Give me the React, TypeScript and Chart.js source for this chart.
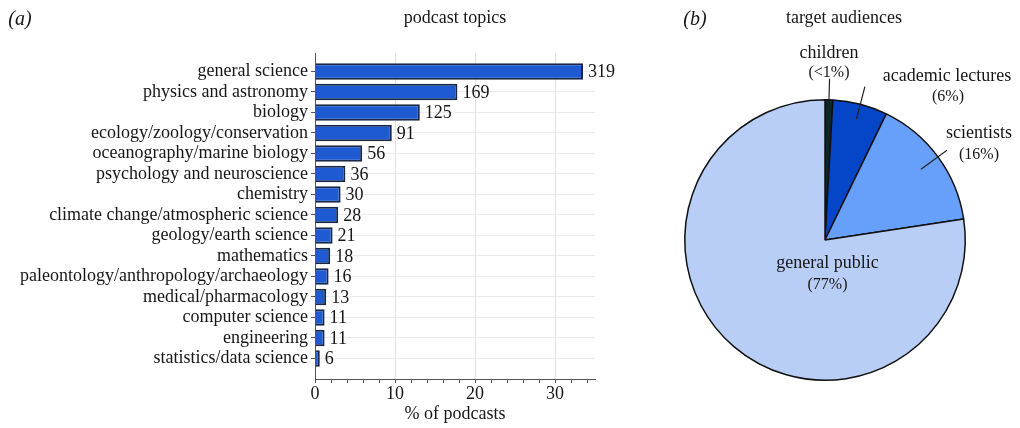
import React, { useEffect, useRef } from 'react';
import { Chart, registerables } from 'chart.js';

Chart.register(...registerables);

// ---------- data ----------
const topics = [
  'general science',
  'physics and astronomy',
  'biology',
  'ecology/zoology/conservation',
  'oceanography/marine biology',
  'psychology and neuroscience',
  'chemistry',
  'climate change/atmospheric science',
  'geology/earth science',
  'mathematics',
  'paleontology/anthropology/archaeology',
  'medical/pharmacology',
  'computer science',
  'engineering',
  'statistics/data science',
];
const topicCounts = [319, 169, 125, 91, 56, 36, 30, 28, 21, 18, 16, 13, 11, 11, 6];
const topicPercent = [33.5, 17.8, 13.1, 9.6, 5.9, 3.8, 3.2, 2.9, 2.2, 1.9, 1.7, 1.4, 1.2, 1.2, 0.6];
const xAxisTitle = '% of podcasts';
const barTitle = 'podcast topics';
const barPanel = '(a)';

const audiences = ['children', 'academic lectures', 'scientists', 'general public'];
const audienceShare = [0.9, 6.3, 15.4, 77.4];
const audienceShareText = ['(<1%)', '(6%)', '(16%)', '(77%)'];
const pieTitle = 'target audiences';
const piePanel = '(b)';

// ---------- style ----------
const FAMILY = '"Liberation Serif", "Times New Roman", serif';
const TEXT = '#161616';
const tickFont = { family: FAMILY, size: 18 };

const barTextPlugin = {
  id: 'barText',
  afterDraw(chart: any) {
    const { ctx, chartArea } = chart;
    ctx.save();
    ctx.fillStyle = TEXT;
    ctx.textBaseline = 'middle';
    ctx.textAlign = 'left';
    ctx.font = `18px ${FAMILY}`;
    const meta = chart.getDatasetMeta(0);
    meta.data.forEach((bar: any, i: number) => {
      ctx.fillText(String(topicCounts[i]), bar.x + 5, bar.y + 1);
    });
    ctx.textAlign = 'center';
    ctx.font = `18px ${FAMILY}`;
    ctx.fillText(barTitle, (chartArea.left + chartArea.right) / 2, 18);
    ctx.font = `italic 20px ${FAMILY}`;
    ctx.fillText(barPanel, 20, 20);
    ctx.restore();
  },
};

const pieLabelStyle = [
  { leader: [1.0, 1.15], name: [4, -187], pct: [4, -167] },
  { leader: [0.89, 1.13], name: [122, -164], pct: [123, -143] },
  { leader: [0.85, 1.08], name: [154, -107], pct: [154, -85] },
  { leader: null, name: [2.5, 23], pct: [2.5, 45] },
];

const pieTextPlugin = {
  id: 'pieText',
  afterDraw(chart: any) {
    const { ctx } = chart;
    const meta = chart.getDatasetMeta(0);
    ctx.save();
    ctx.fillStyle = TEXT;
    ctx.strokeStyle = '#222';
    ctx.lineWidth = 1.2;
    ctx.textAlign = 'center';
    ctx.textBaseline = 'middle';
    meta.data.forEach((arc: any, i: number) => {
      const st = pieLabelStyle[i];
      const { x, y, startAngle, endAngle, outerRadius } = arc.getProps(
        ['x', 'y', 'startAngle', 'endAngle', 'outerRadius'],
        true
      );
      const mid = (startAngle + endAngle) / 2;
      if (st.leader) {
        ctx.beginPath();
        ctx.moveTo(x + Math.cos(mid) * outerRadius * st.leader[0], y + Math.sin(mid) * outerRadius * st.leader[0]);
        ctx.lineTo(x + Math.cos(mid) * outerRadius * st.leader[1], y + Math.sin(mid) * outerRadius * st.leader[1]);
        ctx.stroke();
      }
      ctx.font = `18px ${FAMILY}`;
      ctx.fillText(audiences[i], x + st.name[0], y + st.name[1]);
      ctx.font = `16px ${FAMILY}`;
      ctx.fillText(audienceShareText[i], x + st.pct[0], y + st.pct[1]);
    });
    ctx.font = `18px ${FAMILY}`;
    ctx.fillText(pieTitle, 204, 18);
    ctx.font = `italic 20px ${FAMILY}`;
    ctx.fillText(piePanel, 55, 20);
    ctx.restore();
  },
};

export default function App() {
  const barRef = useRef<HTMLCanvasElement | null>(null);
  const pieRef = useRef<HTMLCanvasElement | null>(null);

  useEffect(() => {
    const barChart = new Chart(barRef.current as HTMLCanvasElement, {
      type: 'bar',
      data: {
        datasets: [
          {
            data: topicPercent.map((v, i) => ({ x: v, y: i })),
            backgroundColor: '#1e5bd2',
            borderColor: '#1a2747',
            borderWidth: 2,
            barPercentage: 0.8,
            categoryPercentage: 1,
          } as any,
        ],
      },
      options: {
        indexAxis: 'y',
        animation: false,
        responsive: false,
        layout: { padding: { top: 53, right: 45, left: 0, bottom: 0 } },
        plugins: { legend: { display: false }, tooltip: { enabled: false } },
        scales: {
          x: {
            type: 'linear',
            position: 'bottom',
            min: 0,
            max: 35,
            offset: false,
            ticks: {
              stepSize: 2,
              includeBounds: false,
              autoSkip: false,
              maxRotation: 0,
              padding: 0,
              font: tickFont,
              color: TEXT,
              callback: (v: any) => (Number(v) % 10 === 0 ? String(v) : ''),
            },
            grid: {
              offset: false,
              color: (c: any) =>
                c.tick && c.tick.value % 10 === 0 && c.tick.value !== 0 ? '#e3e3e3' : 'rgba(0,0,0,0)',
              tickColor: '#555',
              tickLength: 4,
              lineWidth: 1,
            },
            border: { color: '#555', width: 1 },
            title: { display: true, text: xAxisTitle, font: tickFont, color: TEXT, padding: { top: 0, bottom: 3 } },
            afterFit: (s: any) => {
              s.height = 49;
            },
          },
          y: {
            type: 'linear',
            reverse: true,
            min: -0.9,
            max: 15,
            offset: false,
            afterBuildTicks: (s: any) => {
              s.ticks = topics.map((_, i) => ({ value: i }));
            },
            ticks: {
              autoSkip: false,
              padding: 3,
              font: tickFont,
              color: TEXT,
              callback: (v: any) => topics[Number(v)] ?? '',
            },
            grid: { offset: false, color: '#ebebeb', tickColor: '#555', tickLength: 4 },
            border: { color: '#555', width: 1 },
            afterFit: (s: any) => {
              s.width = 315;
            },
          },
        },
      } as any,
      plugins: [barTextPlugin],
    });

    const pieChart = new Chart(pieRef.current as HTMLCanvasElement, {
      type: 'pie',
      data: {
        labels: audiences,
        datasets: [
          {
            data: audienceShare,
            backgroundColor: ['#0c2727', '#0546c9', '#67a0fb', '#b8cef6'],
            borderColor: '#111111',
            borderWidth: 1.5,
          },
        ],
      },
      options: {
        animation: false,
        responsive: false,
        layout: { padding: { left: 44, right: 54, top: 99, bottom: 47 } },
        plugins: { legend: { display: false }, tooltip: { enabled: false } },
      } as any,
      plugins: [pieTextPlugin],
    });

    return () => {
      barChart.destroy();
      pieChart.destroy();
    };
  }, []);

  return (
    <div style={{ position: 'absolute', left: 0, top: 0, width: 1020, height: 428, background: '#fff' }}>
      <canvas
        ref={barRef}
        width={640}
        height={428}
        style={{ position: 'absolute', left: 0, top: 0, width: 640, height: 428 }}
      />
      <canvas
        ref={pieRef}
        width={380}
        height={428}
        style={{ position: 'absolute', left: 640, top: 0, width: 380, height: 428 }}
      />
    </div>
  );
}
